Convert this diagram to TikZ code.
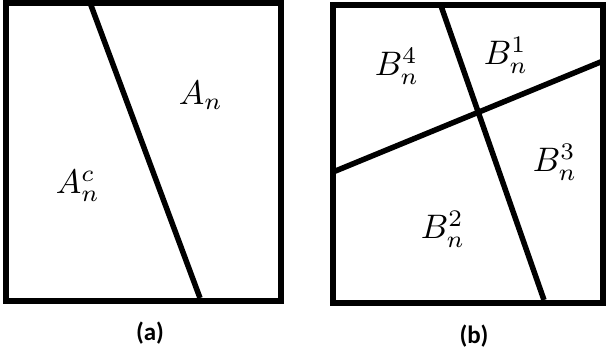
\documentclass[tikz,border=0pt]{standalone}
\usepackage{fontspec}
\setsansfont{Carlito}
\begin{document}
\begin{tikzpicture}[x=1pt,y=-1pt,
  frame/.style={line width=6pt,line join=miter},
  cut/.style={line width=5.5pt},
  lab/.style={scale=3.4},
  captext/.style={font=\sffamily\bfseries\fontsize{25}{27}\selectfont}]
\useasboundingbox (0,0) rectangle (606,360);
% (a)
\draw[frame] (6,3) rectangle (281,301);
\coordinate (a1) at (89,0);
\coordinate (a2) at (200,298);
\draw[cut] (a1) -- (a2);
\node[lab] (An) at (201,95) {$A_n$};
\node[lab] (Anc) at (78,186) {$A_n^c$};
\node[captext] (capa) at (150,333) {(a)};
% (b)
\draw[frame] (333,5) rectangle (603,303);
\coordinate (b1) at (440,3);
\coordinate (b2) at (544,300);
\coordinate (c1) at (333,172);
\coordinate (c2) at (603,61);
\draw[cut] (b1) -- (b2);
\draw[cut] (c1) -- (c2);
\node[lab] (B4) at (397,66) {$B_n^4$};
\node[lab] (B1) at (506,55) {$B_n^1$};
\node[lab] (B3) at (555,162) {$B_n^3$};
\node[lab] (B2) at (443,229) {$B_n^2$};
\node[captext] (capb) at (474,336) {(b)};
\end{tikzpicture}
\end{document}
